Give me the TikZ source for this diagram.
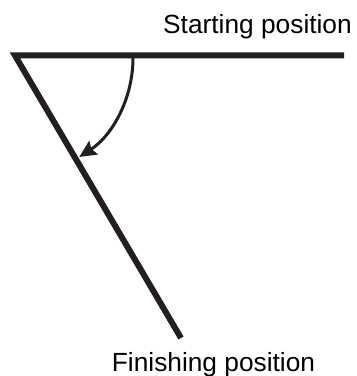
\documentclass[tikz,border=0pt]{standalone}
\usepackage{fontspec}
\setmainfont{Liberation Sans}
\usetikzlibrary{arrows.meta}
\definecolor{ink}{HTML}{231F20}
\begin{document}
\begin{tikzpicture}[x=1pt,y=1pt,
        arm/.style={draw=ink,line width=6pt,line join=miter},
        turn/.style={draw=ink,line width=3pt,-{Stealth[length=17pt,width=16pt,inset=2.5pt]}},
        label/.style={anchor=base,inner sep=0pt,font=\fontsize{26.3}{30}\selectfont,text=black}]
        \useasboundingbox (0,0) rectangle (357,376);
        \coordinate (vertex) at (15,320.5);
        \coordinate (startend) at (344,320.5);
        \coordinate (finishend) at (181,38);
        \draw[arm] (startend) -- (vertex) -- (finishend);
        \draw[turn] (133,318) arc[start angle=0,end angle=-57,radius=118];
        \node[label] (startlabel) at (257.5,342) {Starting position};
        \node[label] (finishlabel) at (213.5,5) {Finishing position};
    \end{tikzpicture}
\end{document}
